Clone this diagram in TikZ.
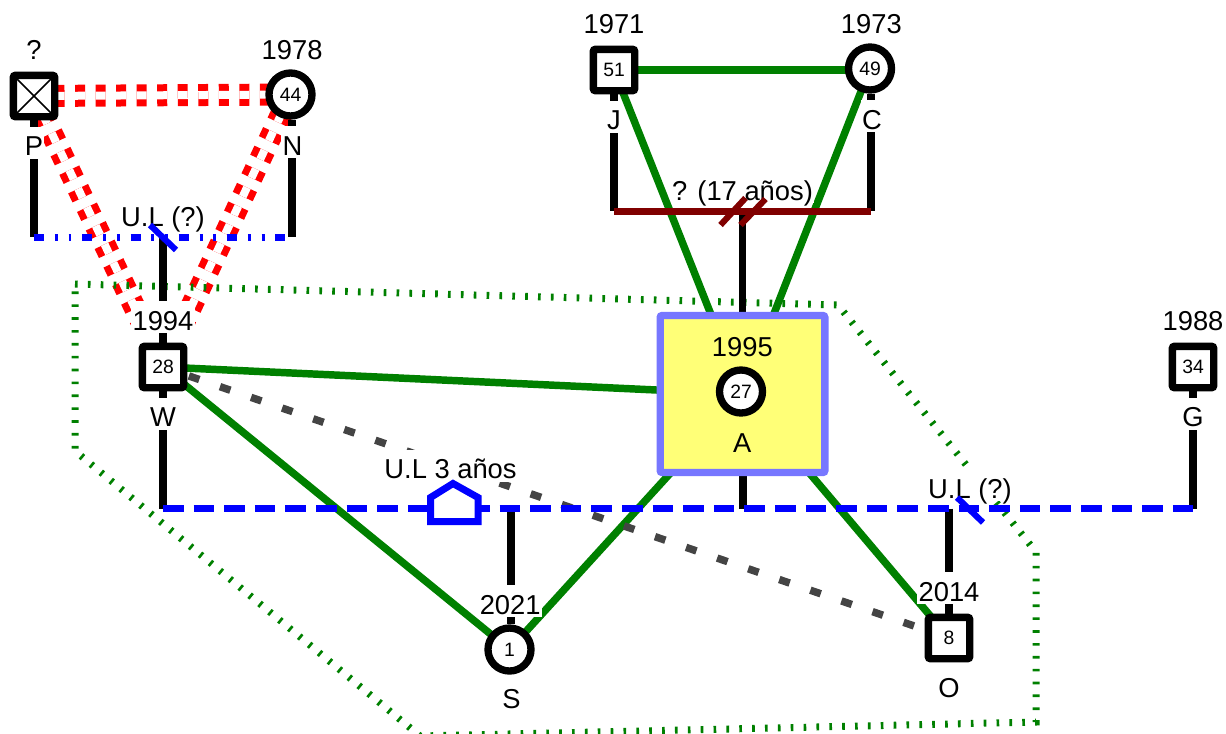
\documentclass[tikz,border=0pt]{standalone}
\usepackage{fontspec}
\setmainfont{Liberation Sans}
\usetikzlibrary{positioning}
\definecolor{verde}{HTML}{008000}
\definecolor{gris}{HTML}{444444}
\definecolor{marron}{HTML}{800000}
\definecolor{borde}{HTML}{7777FF}
\definecolor{relleno}{HTML}{FFFF77}
\pgfdeclarelayer{lineas}
\pgfsetlayers{lineas,main}

\begin{document}
\begin{tikzpicture}[
				x=0.75pt,y=-0.75pt,
				man/.style={draw=black,fill=white,rectangle,line width=5.5pt,minimum size=31pt,inner sep=0pt,rounded corners=1.5pt,font=\fontsize{14.5}{16}\selectfont},
				woman/.style={draw=black,fill=white,circle,line width=5.5pt,minimum size=32.25pt,inner sep=0pt,font=\fontsize{14.5}{16}\selectfont},
				lab/.style={fill=white,inner xsep=1pt,inner ysep=0pt,text height=22pt,text depth=2pt,font=\fontsize{20.5}{24}\selectfont},
				kin/.style={draw=black,line width=5.6pt},
				amor/.style={draw=verde,line width=5.6pt},
				roto/.style={draw=red,line width=5.25pt,double=white,double distance=6pt,dash pattern=on 7.5pt off 7.9pt},
				union/.style={draw=blue,line width=5.6pt,dash pattern=on 15.4pt off 7.55pt},
				libre/.style={draw=blue,line width=5.25pt,dash pattern=on 7.5pt off 8.1pt on 2.2pt off 8.1pt on 2.2pt off 8.1pt},
				lazo/.style={draw=gris,line width=5.6pt,dash pattern=on 8.25pt off 16.4pt,dash phase=4.1pt},
				grupo/.style={draw=verde,line width=5.25pt,dash pattern=on 2pt off 7.65pt},
				corte/.style={line width=4.6pt}
				]
				
				\useasboundingbox (0,0) rectangle (1226,733);
				
				% Personas
				\node[man] (P) at (34,96) {};
				\node[woman] (N) at (290.5,94.5) {44};
				\node[man] (J) at (614,70) {51};
				\node[woman] (C) at (870,68.5) {49};
				\node[man] (W) at (163,367) {28};
				\node[man] (G) at (1193,367) {34};
				\node[man] (O) at (949,638) {8};
				\node[woman] (S) at (509.5,649.5) {1};
				\coordinate (Ac) at (742.5,394);
				
				% Uniones
				\coordinate (uP) at (34,237);
				\coordinate (uN) at (292,237);
				\coordinate (uPN) at (163,237);
				\coordinate (uJ) at (614,211);
				\coordinate (uC) at (871,211);
				\coordinate (uJC) at (742.5,211);
				\coordinate (uW) at (163,508.5);
				\coordinate (uG) at (1193,508.5);
				\coordinate (uA) at (743,508.5);
				\coordinate (uS) at (511,508.5);
				\coordinate (uO) at (949,508.5);
				\coordinate (uH) at (454,508.5);
				\coordinate (uU) at (970,508.5);
				
				\begin{pgfonlayer}{lineas}
				% Relaciones rotas
				\draw[roto] (P.center) -- (N.center);
				\draw[roto,shorten >=27pt] (P.center) -- (W.center);
				\draw[roto,shorten >=27pt] (N.center) -- (W.center);
				
				% Grupo
				\draw[grupo] (75,284) -- (838,305) -- (1036,552) -- (1036,722) -- (948,724) -- (420,736) -- (75,451) -- cycle;
				
				% Relaciones
				\draw[amor] (J.center) -- (J.center -| C);
				\draw[amor] (J.center) -- (Ac);
				\draw[amor] (C.center) -- (Ac);
				\draw[amor] (W.center) -- (Ac);
				\draw[amor] (W.center) -- (S.center);
				\draw[amor] (S.center) -- (Ac);
				\draw[amor] (O.center) -- (Ac);
				\draw[lazo] (W.center) -- (O.center);
				
				% Hijos
				\draw[kin] (P) -- (uP);
				\draw[kin] (N.south -| uN) -- (uN);
				\draw[kin] (uPN) -- (W);
				\draw[kin] (J) -- (uJ);
				\draw[kin] (C.south -| uC) -- (uC);
				\draw[kin] (uJC) -- (Ac);
				\draw[kin] (W) -- (uW);
				\draw[kin] (G) -- (uG);
				\draw[kin] (Ac -| uA) -- (uA);
				\draw[kin] (uS) -- (S.north -| uS);
				\draw[kin] (uO) -- (O);
				
				% Lineas de pareja
				\draw[libre] (uP) -- (uN);
				\draw[union] (uW) -- (uG);
				\draw[marron,line width=5.25pt] (uJ) -- (uC);
				\end{pgfonlayer}
				
				% Caja de A
				\node[draw=borde,fill=relleno,line width=5.5pt,rounded corners=1.5pt,minimum width=123.5pt,minimum height=117.75pt] (boxA) at (Ac) {};
				\node[woman] (A) at (741,391.5) {27};
				
				% Anotaciones
				\node[lab,above=7pt of P] (labP) {?};
				\node[lab,above=5.5pt of N,xshift=1.2pt] (labN) {1978};
				\node[lab,above=7pt of J] (labJ) {1971};
				\node[lab,above=5.5pt of C,xshift=1pt] (labC) {1973};
				\node[lab,above=7pt of W] (labW) {1994};
				\node[lab,above=7pt of G] (labG) {1988};
				\node[lab,above=7pt of O] (labO) {2014};
				\node[lab,above=5.5pt of S,xshift=0.5pt] (labS) {2021};
				\node[lab,fill=none,above=5.5pt of A,xshift=1pt] (labA) {1995};
				
				\node[lab,below=4.5pt of P] (nomP) {P};
				\node[lab,below=4.5pt of N,xshift=1.5pt] (nomN) {N};
				\node[lab,below=4.5pt of J] (nomJ) {J};
				\node[lab,below=4.5pt of C,xshift=1.5pt] (nomC) {C};
				\node[lab,below=4.5pt of W] (nomW) {W};
				\node[lab,below=4.5pt of G] (nomG) {G};
				\node[lab,below=4.5pt of O] (nomO) {O};
				\node[lab,below=3.5pt of S,xshift=1.5pt] (nomS) {S};
				\node[lab,fill=none,below=4.5pt of A,xshift=1pt] (nomA) {A};
				
				\node[lab,above=5.5pt of uPN] (labPN) {U.L (?)};
				\node[lab,above=5.5pt of uJC] (labJC) {? (17 años)};
				\node[lab,above=20pt of uH,xshift=-2.6pt] (labH) {U.L 3 años};
				\node[lab,above=5.5pt of uU] (labU) {U.L (?)};
				
				% Marcas
				\draw[blue,corte] ([shift={(-13,-12)}]uPN) -- ([shift={(13,13)}]uPN);
				\draw[blue,corte] ([shift={(-13,-11)}]uU) -- ([shift={(13,14)}]uU);
				\draw[marron,corte] ([shift={(-22,14)}]uJC) -- ([shift={(3,-13)}]uJC);
				\draw[marron,corte] ([shift={(-2,14)}]uJC) -- ([shift={(23,-12)}]uJC);
				\draw[blue,line width=5.25pt,fill=white] ([shift={(-23.5,13)}]uH) -- ([shift={(-23.5,-11)}]uH) -- ([shift={(-1,-25)}]uH) -- ([shift={(24,-11)}]uH) -- ([shift={(24,13)}]uH) -- cycle;
				
				% Cruz de P
				\draw[line width=1.2pt] ([shift={(-17,-17)}]P.center) -- ([shift={(17,17)}]P.center);
				\draw[line width=1.2pt] ([shift={(17,-17)}]P.center) -- ([shift={(-17,17)}]P.center);
				
			\end{tikzpicture}
\end{document}
